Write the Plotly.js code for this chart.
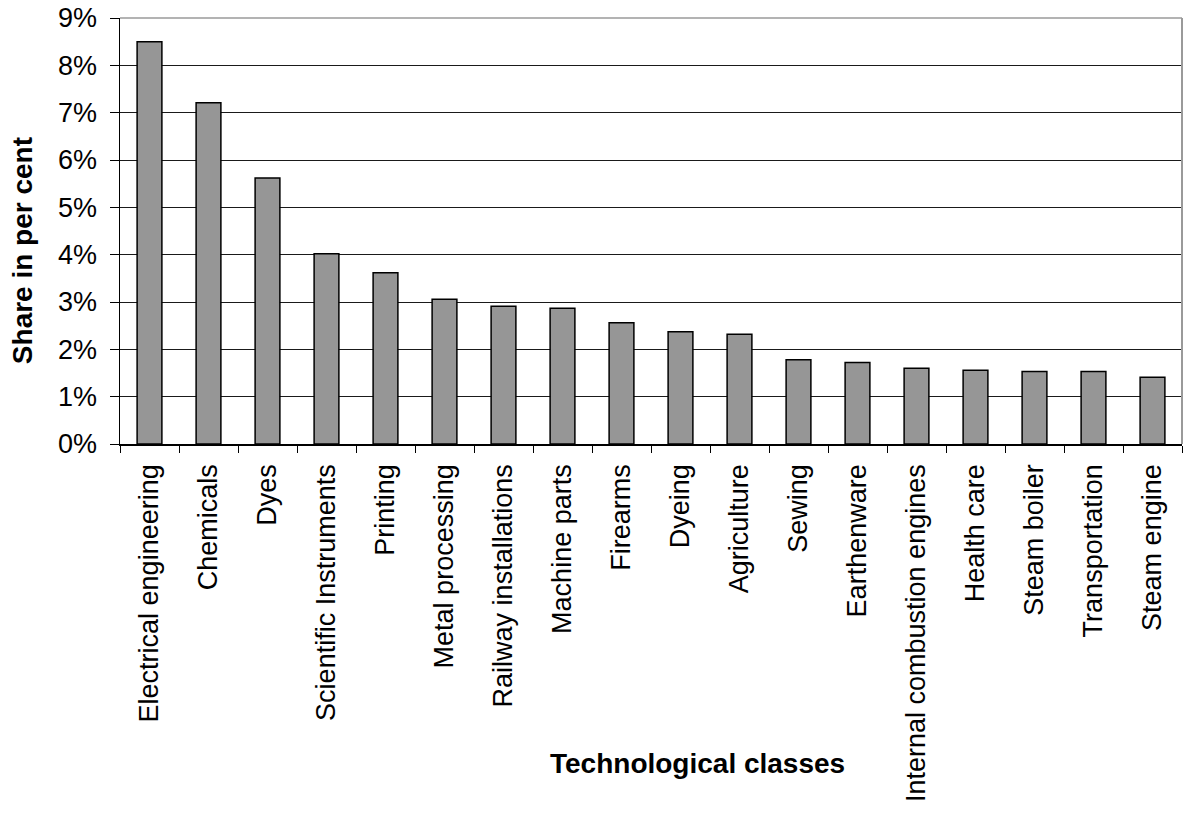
<!DOCTYPE html>
<html>
<head>
<meta charset="utf-8">
<script src="https://cdn.plot.ly/plotly-3.0.1.min.js"></script>
<style>
  html, body { margin: 0; padding: 0; background: #ffffff; }
  #chart { width: 1185px; height: 816px; }
</style>
</head>
<body>
<div id="chart"></div>
<script>
// Technological classes and their share (in per cent)
const classes = [
  "Electrical engineering", "Chemicals", "Dyes", "Scientific Instruments",
  "Printing", "Metal processing", "Railway installations", "Machine parts",
  "Firearms", "Dyeing", "Agriculture", "Sewing", "Earthenware",
  "Internal combustion engines", "Health care", "Steam boiler",
  "Transportation", "Steam engine"
];
const sharePct = [
  8.50, 7.21, 5.62, 4.02, 3.62, 3.06, 2.91, 2.87, 2.56, 2.37, 2.32,
  1.78, 1.72, 1.60, 1.56, 1.53, 1.53, 1.41
];
const yTickVals = [0, 1, 2, 3, 4, 5, 6, 7, 8, 9];
const yTickText = ["0%", "1%", "2%", "3%", "4%", "5%", "6%", "7%", "8%", "9%"];

const FONT = "Liberation Sans, Arial, Helvetica, sans-serif";

const trace = {
  type: "bar",
  x: classes,
  y: sharePct,
  marker: { color: "#969696", line: { color: "#000000", width: 1.5 } },
  hoverinfo: "x+y"
};

const layout = {
  width: 1185,
  height: 816,
  margin: { l: 120, r: 3, t: 18, b: 372 },
  paper_bgcolor: "#ffffff",
  plot_bgcolor: "#ffffff",
  showlegend: false,
  bargap: 0.58,
  font: { family: FONT, color: "#000000" },
  xaxis: {
    type: "category",
    tickangle: -90,
    tickfont: { family: FONT, size: 27, color: "#000000" },
    showline: true,
    linecolor: "#000000",
    linewidth: 1.5,
    ticks: "outside",
    tickson: "boundaries",
    ticklen: 7,
    tickcolor: "#000000",
    tickwidth: 1,
    showgrid: false,
    zeroline: false,
    ticklabelstandoff: 8
  },
  yaxis: {
    range: [0, 9],
    tickvals: yTickVals,
    ticktext: yTickText,
    tickfont: { family: FONT, size: 27, color: "#000000" },
    showline: true,
    linecolor: "#000000",
    linewidth: 1.5,
    ticks: "outside",
    ticklen: 9,
    tickcolor: "#000000",
    tickwidth: 1,
    showgrid: true,
    gridcolor: "#1a1a1a",
    gridwidth: 1,
    zeroline: false,
    ticklabelstandoff: 7
  },
  shapes: [
    // light frame on the top and right edges of the plot area
    { type: "line", xref: "paper", yref: "paper", x0: 0, x1: 1, y0: 1, y1: 1,
      line: { color: "#9a9a9a", width: 1.5 }, layer: "above" },
    { type: "line", xref: "paper", yref: "paper", x0: 1, x1: 1, y0: 0, y1: 1,
      line: { color: "#9a9a9a", width: 2 }, layer: "above" }
  ],
  annotations: [
    {
      text: "<b>Technological classes</b>",
      xref: "paper", yref: "paper",
      x: 0.544, y: -0.749,
      xanchor: "center", yanchor: "middle",
      showarrow: false,
      font: { family: FONT, size: 28, color: "#000000" }
    },
    {
      text: "<b>Share in per cent</b>",
      xref: "paper", yref: "paper",
      x: -0.0923, y: 0.455,
      xanchor: "center", yanchor: "middle",
      textangle: -90,
      showarrow: false,
      font: { family: FONT, size: 28, color: "#000000" }
    }
  ]
};

Plotly.newPlot("chart", [trace], layout, { displayModeBar: false, staticPlot: true });
</script>
</body>
</html>
